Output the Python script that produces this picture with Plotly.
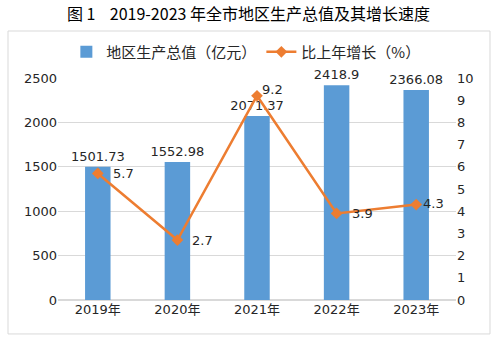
import plotly.graph_objects as go

years = ["2019年", "2020年", "2021年", "2022年", "2023年"]
gdp = [1501.73, 1552.98, 2071.37, 2418.9, 2366.08]
growth = [5.7, 2.7, 9.2, 3.9, 4.3]
gdp_labels = ["1501.73", "1552.98", "2071.37", "2418.9", "2366.08"]
growth_labels = ["5.7", "2.7", "9.2", "3.9", "4.3"]

FONT = "DejaVu Sans, Noto Sans CJK SC"
TXT = "#262626"
NB = "\u00a0"

fig = go.Figure()
fig.add_trace(go.Bar(
    x=years, y=gdp, name="地区生产总值（亿元）",
    marker=dict(color="#5B9BD5", line=dict(width=0)),
    text=gdp_labels, textposition="outside", cliponaxis=False,
    constraintext="none", textangle=0,
    textfont=dict(size=13, color=TXT, family=FONT),
))
fig.add_trace(go.Scatter(
    x=years, y=growth, name="比上年增长（%）", yaxis="y2",
    mode="lines+markers",
    line=dict(color="#ED7D31", width=2.5),
    marker=dict(symbol="diamond", size=9, color="#ED7D31"),
    cliponaxis=False,
))

# line value labels (positioned from the data via axis refs)
xshifts = [13, 13, 3, 13, 5]
yshifts = [0, 0, 6, 0, 1]
annotations = []
for yr, g, lab, xs, ys in zip(years, growth, growth_labels, xshifts, yshifts):
    annotations.append(dict(
        x=yr, y=g, xref="x", yref="y2", text=lab, showarrow=False,
        xanchor="left", yanchor="middle", xshift=xs, yshift=ys,
        font=dict(size=13, color=TXT, family=FONT),
    ))

fig.update_layout(
    width=497, height=342,
    margin=dict(l=58, r=41, t=78, b=42),
    paper_bgcolor="white", plot_bgcolor="white",
    font=dict(family=FONT, size=13, color=TXT),
    bargap=0.68,
    uniformtext=dict(minsize=13, mode="show"),
    title=dict(text="图" + NB + "1" + NB * 4 + "2019-2023" + NB + "年全市地区生产总值及其增长速度",
               x=0.5, xanchor="center", y=1 - 14 / 342, yanchor="middle",
               font=dict(size=16, color="#000000", family="Noto Sans CJK SC, DejaVu Sans")),
    showlegend=True,
    legend=dict(orientation="h", x=0.472, xanchor="center", y=1.117, yanchor="middle",
                font=dict(size=15, color=TXT, family="Noto Sans CJK SC, DejaVu Sans"),
                bgcolor="rgba(0,0,0,0)", itemwidth=30, tracegroupgap=0),
    xaxis=dict(showgrid=False, showline=False, ticks="", tickfont=dict(size=13)),
    yaxis=dict(range=[0, 2500], dtick=500, showgrid=True, gridcolor="#D9D9D9",
               gridwidth=1, zeroline=True, zerolinecolor="#D9D9D9", ticks="",
               showline=False, tickfont=dict(size=13)),
    yaxis2=dict(range=[0, 10], dtick=1, overlaying="y", side="right",
                showgrid=False, zeroline=False, ticks="", showline=False,
                tickfont=dict(size=13)),
    annotations=annotations,
    shapes=[dict(type="rect", xref="paper", yref="paper",
                 x0=-0.1256, x1=1.0854, y0=-0.153, y1=1.2117,
                 line=dict(color="#D9D9D9", width=1), layer="below")],
)

fig.write_html("out.html")
